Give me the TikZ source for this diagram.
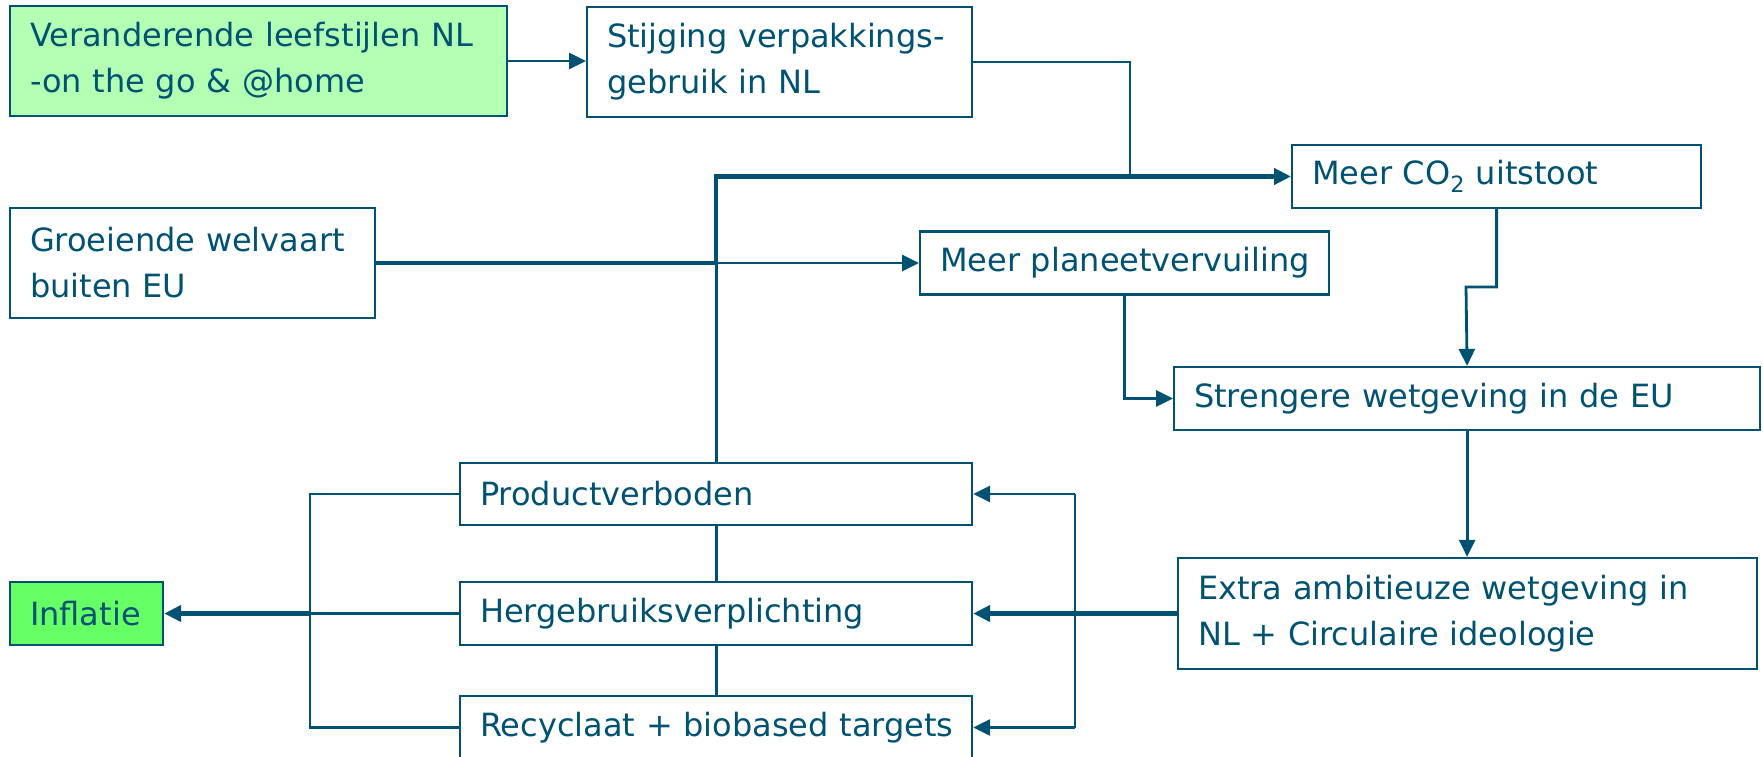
\documentclass[tikz,border=0pt]{standalone}
\usepackage{fontspec}
\setmainfont{DejaVu Sans}
\usetikzlibrary{arrows.meta}
\definecolor{ink}{RGB}{0,82,115}
\definecolor{lgreen}{RGB}{179,255,179}
\definecolor{bgreen}{RGB}{102,255,102}
\tikzset{
  box/.style={draw=ink, line width=2.2pt, anchor=west, inner xsep=20pt, inner ysep=0pt,
    align=left, text=ink, font=\fontsize{32}{46}\selectfont},
  conn/.style={draw=ink, line width=2.8pt},
  thickconn/.style={draw=ink, line width=4.2pt},
  tip/.style={-{Triangle[length=17pt,width=16pt]}}
}
\begin{document}
\begin{tikzpicture}[x=1pt,y=-1pt]
\useasboundingbox (0,0) rectangle (1763,757);
\node[box, fill=lgreen, minimum width=497pt, minimum height=110pt, text width=457pt] (A) at (9,61)
  {\mbox{Veranderende leefstijlen NL}\\\mbox{-on the go \& @home}};
\node[box, minimum width=385pt, minimum height=110pt, text width=345pt] (B) at (586,62)
  {\mbox{Stijging verpakkings-}\\\mbox{gebruik in NL}};
\node[box, minimum width=409pt, minimum height=63pt, text width=369pt] (C) at (1291,176.5)
  {\mbox{Meer CO\textsubscript{2} uitstoot}};
\node[box, minimum width=365pt, minimum height=110pt, text width=325pt] (D) at (9,263)
  {\mbox{Groeiende welvaart}\\\mbox{buiten EU}};
\node[box, minimum width=409pt, minimum height=63pt, text width=369pt] (E) at (919,263)
  {\mbox{Meer planeetvervuiling}};
\node[box, minimum width=586pt, minimum height=63pt, text width=546pt] (F) at (1173,398.5)
  {\mbox{Strengere wetgeving in de EU}};
\node[box, minimum width=579pt, minimum height=111pt, text width=539pt] (G) at (1177,613.5)
  {\mbox{Extra ambitieuze wetgeving in}\\\mbox{NL + Circulaire ideologie}};
\node[box, minimum width=512pt, minimum height=62pt, text width=472pt] (H) at (459,494)
  {\mbox{Productverboden}};
\node[box, minimum width=512pt, minimum height=63pt, text width=472pt] (I) at (459,613.5)
  {\mbox{Hergebruiksverplichting}};
\node[box, minimum width=512pt, minimum height=63pt, text width=472pt] (J) at (459,727.5)
  {\mbox{Recyclaat + biobased targets}};
\node[box, fill=bgreen, minimum width=153pt, minimum height=63pt, text width=113pt] (K) at (9,613.5)
  {\mbox{Inflatie}};

\coordinate (bj) at (1130,176.5);
\coordinate (cf) at (1466,287);
\coordinate (rt) at (1075,494);
\coordinate (rb) at (1075,727.5);
\coordinate (lt) at (310,494);
\coordinate (lm) at (310,613.5);
\coordinate (lb) at (310,727.5);

\draw[conn, tip] (A.east) -- (A.east -| B.west);
\draw[conn] (B.east) -| (bj);
\draw[conn] (H.north) -- (H.north |- D.east);
\draw[thickconn, tip] (D.east) -- (D.east -| H.north) -- (H.north |- C.west) -- (C.west);
\draw[conn, tip] (D.east -| H.north) -- (E.west);
\draw[conn, tip] (E.south) |- (F.west);
\draw[conn, tip] (C.south) |- (cf) -- (F.north);
\draw[conn, tip] (F.south) -- (F.south |- G.north);
\draw[thickconn, tip] (G.west) -- (I.east);
\draw[conn] (rt) -- (rb);
\draw[conn, tip] (rt) -- (H.east);
\draw[conn, tip] (rb) -- (J.east);
\draw[conn] (H.south) -- (I.north);
\draw[conn] (I.south) -- (J.north);
\draw[conn] (H.west) -- (lt) -- (lb) -- (J.west);
\draw[conn] (I.west) -- (lm);
\draw[thickconn, tip] (lm) -- (K.east);
\end{tikzpicture}
\end{document}
